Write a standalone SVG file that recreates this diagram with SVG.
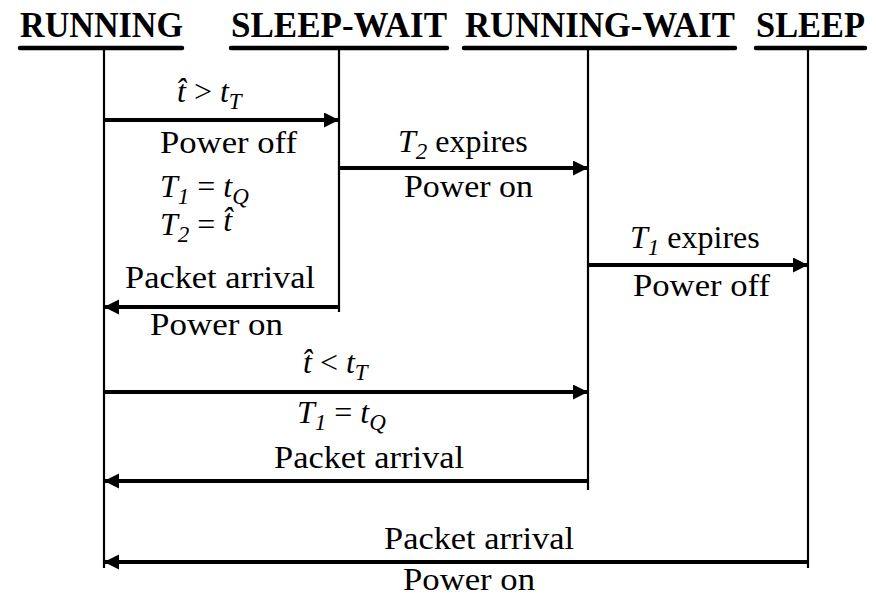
<svg xmlns="http://www.w3.org/2000/svg" width="876" height="597" viewBox="0 0 876 597">
<defs>
<style>
svg text, svg tspan { font-family: 'Liberation Serif', 'Times New Roman', serif !important; }
.hdr { font-weight: bold; font-size: 35px; fill: #000; }
.lbl { font-size: 32px; fill: #000; }
.it { font-style: italic; }
.sub { font-style: italic; font-size: 23px; }
.ul { stroke: #000; stroke-width: 4.5; stroke-linecap: round; }
.life { stroke: #000; stroke-width: 2.2; fill: none; }
.arr { stroke: #000; stroke-width: 4; fill: none; marker-end: url(#ah); }
</style>
<marker id="ah" markerUnits="userSpaceOnUse" markerWidth="16" markerHeight="16" refX="15" refY="7.5" orient="auto">
<path d="M0,0 L15,7.5 L0,15 z" fill="#000"/>
</marker>
</defs>
<rect width="876" height="597" fill="#fff"/>

<g id="running">
<text class="hdr" style="font-family:'Liberation Serif',serif !important" font-family="Liberation Serif" x="20" y="37" textLength="163" lengthAdjust="spacingAndGlyphs">RUNNING</text>
<line class="ul" x1="20" y1="48" x2="182" y2="48"/>
<line class="life" x1="104" y1="48" x2="104" y2="568"/>
</g>
<g id="sleep-wait">
<text class="hdr" style="font-family:'Liberation Serif',serif !important" font-family="Liberation Serif" x="231" y="37" textLength="216" lengthAdjust="spacingAndGlyphs">SLEEP-WAIT</text>
<line class="ul" x1="231" y1="48" x2="447" y2="48"/>
<line class="life" x1="339" y1="48" x2="339" y2="312"/>
</g>
<g id="running-wait">
<text class="hdr" style="font-family:'Liberation Serif',serif !important" font-family="Liberation Serif" x="465" y="37" textLength="270" lengthAdjust="spacingAndGlyphs">RUNNING-WAIT</text>
<line class="ul" x1="464" y1="48" x2="735" y2="48"/>
<line class="life" x1="588" y1="48" x2="588" y2="490"/>
</g>
<g id="sleep">
<text class="hdr" style="font-family:'Liberation Serif',serif !important" font-family="Liberation Serif" x="756" y="37" textLength="109" lengthAdjust="spacingAndGlyphs">SLEEP</text>
<line class="ul" x1="756" y1="48" x2="865" y2="48"/>
<line class="life" x1="808" y1="48" x2="808" y2="568"/>
</g>

<g id="connectors">
<line class="arr" x1="104" y1="120" x2="339" y2="120"/>
<line class="arr" x1="339" y1="168" x2="588" y2="168"/>
<line class="arr" x1="588" y1="265" x2="808" y2="265"/>
<line class="arr" x1="339" y1="307" x2="104" y2="307"/>
<line class="arr" x1="104" y1="392" x2="588" y2="392"/>
<line class="arr" x1="588" y1="481" x2="104" y2="481"/>
<line class="arr" x1="808" y1="562" x2="104" y2="562"/>
</g>

<g id="labels" font-family="Liberation Serif">
<text class="lbl" style="font-family:'Liberation Serif',serif !important" x="177" y="102"><tspan class="it" style="font-family:'Liberation Serif',serif !important">t&#770;</tspan> &gt; <tspan class="it" style="font-family:'Liberation Serif',serif !important">t</tspan><tspan class="sub" style="font-family:'Liberation Serif',serif !important" dy="7">T</tspan></text>
<text class="lbl" style="font-family:'Liberation Serif',serif !important" x="160" y="153" textLength="137" lengthAdjust="spacingAndGlyphs">Power off</text>
<text class="lbl" style="font-family:'Liberation Serif',serif !important" x="160" y="197"><tspan class="it" style="font-family:'Liberation Serif',serif !important">T</tspan><tspan class="sub" style="font-family:'Liberation Serif',serif !important" dy="7">1</tspan><tspan style="font-family:'Liberation Serif',serif !important" dy="-7"> = </tspan><tspan class="it" style="font-family:'Liberation Serif',serif !important">t</tspan><tspan class="sub" style="font-family:'Liberation Serif',serif !important" dy="7">Q</tspan></text>
<text class="lbl" style="font-family:'Liberation Serif',serif !important" x="160" y="235"><tspan class="it" style="font-family:'Liberation Serif',serif !important">T</tspan><tspan class="sub" style="font-family:'Liberation Serif',serif !important" dy="7">2</tspan><tspan style="font-family:'Liberation Serif',serif !important" dy="-7"> = </tspan><tspan class="it" style="font-family:'Liberation Serif',serif !important" dy="-4">t&#770;</tspan></text>

<text class="lbl" style="font-family:'Liberation Serif',serif !important" x="398" y="152"><tspan class="it" style="font-family:'Liberation Serif',serif !important">T</tspan><tspan class="sub" style="font-family:'Liberation Serif',serif !important" dy="7">2</tspan><tspan style="font-family:'Liberation Serif',serif !important" dy="-7"> expires</tspan></text>
<text class="lbl" style="font-family:'Liberation Serif',serif !important" x="404" y="197" textLength="129" lengthAdjust="spacingAndGlyphs">Power on</text>

<text class="lbl" style="font-family:'Liberation Serif',serif !important" x="630" y="248"><tspan class="it" style="font-family:'Liberation Serif',serif !important">T</tspan><tspan class="sub" style="font-family:'Liberation Serif',serif !important" dy="7">1</tspan><tspan style="font-family:'Liberation Serif',serif !important" dy="-7"> expires</tspan></text>
<text class="lbl" style="font-family:'Liberation Serif',serif !important" x="633" y="296" textLength="137" lengthAdjust="spacingAndGlyphs">Power off</text>

<text class="lbl" style="font-family:'Liberation Serif',serif !important" x="125" y="288" textLength="190" lengthAdjust="spacingAndGlyphs">Packet arrival</text>
<text class="lbl" style="font-family:'Liberation Serif',serif !important" x="150" y="335" textLength="133" lengthAdjust="spacingAndGlyphs">Power on</text>

<text class="lbl" style="font-family:'Liberation Serif',serif !important" x="303" y="373"><tspan class="it" style="font-family:'Liberation Serif',serif !important">t&#770;</tspan> &lt; <tspan class="it" style="font-family:'Liberation Serif',serif !important">t</tspan><tspan class="sub" style="font-family:'Liberation Serif',serif !important" dy="7">T</tspan></text>
<text class="lbl" style="font-family:'Liberation Serif',serif !important" x="297" y="423"><tspan class="it" style="font-family:'Liberation Serif',serif !important">T</tspan><tspan class="sub" style="font-family:'Liberation Serif',serif !important" dy="7">1</tspan><tspan style="font-family:'Liberation Serif',serif !important" dy="-7"> = </tspan><tspan class="it" style="font-family:'Liberation Serif',serif !important">t</tspan><tspan class="sub" style="font-family:'Liberation Serif',serif !important" dy="7">Q</tspan></text>
<text class="lbl" style="font-family:'Liberation Serif',serif !important" x="274" y="468" textLength="190" lengthAdjust="spacingAndGlyphs">Packet arrival</text>

<text class="lbl" style="font-family:'Liberation Serif',serif !important" x="384" y="549" textLength="190" lengthAdjust="spacingAndGlyphs">Packet arrival</text>
<text class="lbl" style="font-family:'Liberation Serif',serif !important" x="403" y="590" textLength="132" lengthAdjust="spacingAndGlyphs">Power on</text>
</g>
</svg>
